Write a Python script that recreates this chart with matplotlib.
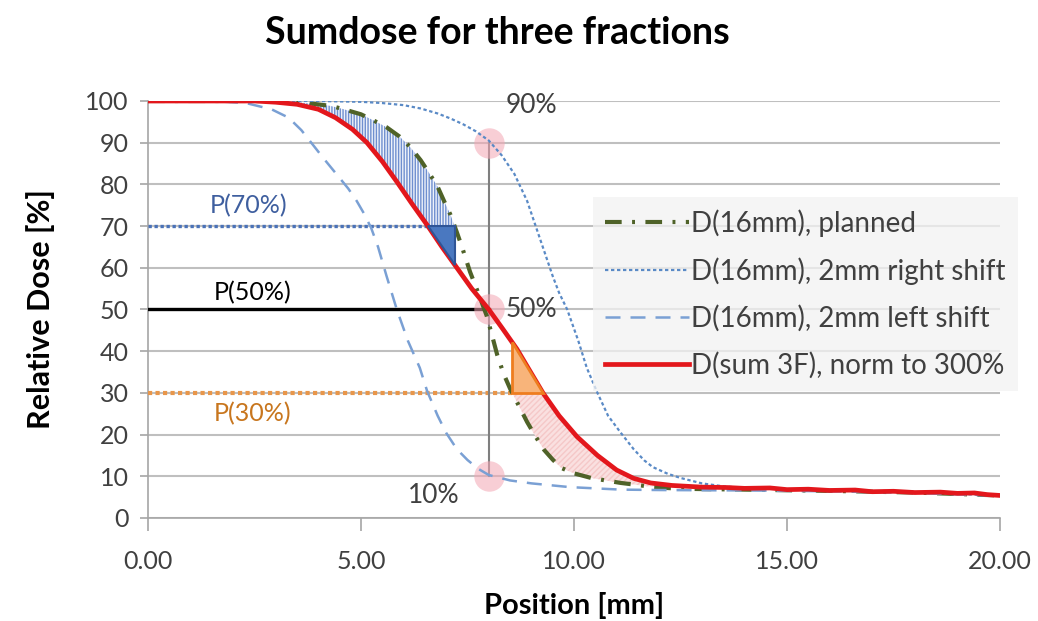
import numpy as np
import matplotlib.pyplot as plt

# dose profiles (position in mm, relative dose in %)
planned_x = [0.0, 3.0, 3.5, 3.9, 4.3, 4.6, 5.0, 5.3, 5.6, 5.9, 6.15, 6.4, 6.6, 6.8,
             6.95, 7.1, 7.25, 7.37, 7.56, 7.75, 7.95, 8.07, 8.2, 8.35, 8.5, 8.7, 8.9,
             9.1, 9.3, 9.5, 9.7, 10.0, 10.4, 10.8, 11.1, 11.5, 11.85, 12.5, 14.0,
             16.0, 18.0, 20.0]
planned_y = [100, 100, 99.7, 99.3, 98.8, 98.0, 96.8, 95.3, 93.7, 91.5, 89.0, 85.8, 82.7, 79.4,
             76.0, 72.7, 68.5, 65.0, 59.0, 54.0, 48.5, 44.0, 39.0, 34.5, 31.0, 27.0, 23.0,
             19.5, 16.3, 14.0, 12.0, 10.7, 9.6, 8.9, 8.4, 7.9, 7.4, 7.0, 6.8,
             6.5, 6.1, 5.4]

right_x = [0.0, 4.0, 5.0, 5.5, 6.0, 6.4, 6.8, 7.1, 7.4, 7.7, 8.0, 8.3, 8.6, 8.9, 9.1,
           9.3, 9.5, 9.65, 9.84, 10.1, 10.3, 10.55, 10.8, 11.1, 11.4, 11.65, 11.85,
           12.2, 12.5, 13.0, 13.5, 14.0, 16.0, 18.0, 20.0]
right_y = [100, 100, 99.8, 99.5, 99.0, 98.2, 97.0, 95.8, 94.4, 92.7, 90.5, 87.0, 82.5, 76.0, 70.0,
           64.0, 58.0, 54.0, 50.0, 42.5, 36.0, 30.0, 24.5, 20.4, 16.5, 13.8, 12.2,
           10.6, 9.6, 8.3, 7.6, 7.2, 6.6, 6.1, 5.4]

left_x = [0.0, 1.5, 2.3, 2.9, 3.3, 3.6, 3.87, 4.1, 4.3, 4.5, 4.7, 4.9, 5.07, 5.24,
          5.4, 5.6, 5.84, 6.1, 6.38, 6.55, 6.8, 7.0, 7.25, 7.5, 7.75, 8.0, 8.5, 9.0,
          9.9, 11.1, 12.0, 14.0, 16.0, 18.0, 20.0]
left_y = [100, 100, 99.5, 98.0, 96.0, 93.0, 89.5, 86.5, 84.0, 81.5, 79.0, 76.0, 73.0, 69.5,
          65.0, 58.0, 50.0, 42.5, 36.0, 30.5, 24.5, 20.4, 16.5, 13.9, 11.8, 10.3, 9.0, 8.3,
          7.4, 6.8, 6.7, 6.6, 6.4, 6.0, 5.3]

sum_x = [0.0, 2.5, 3.0, 3.5, 4.0, 4.4, 4.8, 5.14, 5.5, 5.85, 6.2, 6.57, 6.9, 7.25,
         7.6, 8.0, 8.33, 8.66, 8.95, 9.27, 9.65, 10.07, 10.55, 11.0, 11.4, 11.8, 12.3,
         13.0, 13.6, 14.0, 14.6, 15.0, 15.5, 16.0, 16.6, 17.0, 17.5, 18.0, 18.6, 19.0,
         19.4, 19.7, 20.0]
sum_y = [100, 100, 99.7, 99.2, 98.0, 96.0, 93.2, 90.0, 85.5, 80.5, 75.3, 70.0, 65.0, 60.0,
         55.0, 50.0, 45.3, 40.5, 35.5, 30.0, 24.5, 19.5, 15.0, 11.5, 9.5, 8.4, 7.8,
         7.4, 7.3, 7.1, 7.2, 6.8, 6.9, 6.6, 6.7, 6.3, 6.4, 6.1, 6.2, 5.9,
         6.0, 5.6, 5.4]

labels = ['D(16mm), planned', 'D(16mm), 2mm right shift',
          'D(16mm), 2mm left shift', 'D(sum 3F), norm to 300%']

xticks = [0, 5, 10, 15, 20]
yticks = list(range(0, 101, 10))

p_levels = [70, 50, 30]
p_names = ['P(70%)', 'P(50%)', 'P(30%)']
marks = [90, 50, 10]

plt.rcParams['font.family'] = ['Lato', 'DejaVu Sans']
plt.rcParams['hatch.linewidth'] = 1.0


def x_at(xs, ys, level):
    # curves fall monotonically, so flip them for np.interp
    return float(np.interp(level, ys[::-1], xs[::-1]))


def main():
    fig = plt.figure(figsize=(10.38, 6.21), dpi=100)
    ax = fig.add_axes([0.1426, 0.1659, 0.8208, 0.6715])

    px, py = np.array(planned_x), np.array(planned_y)
    sx, sy = np.array(sum_x), np.array(sum_y)

    # hatched areas between the summed and the planned profile
    yy = np.linspace(p_levels[0], 99.6, 80)
    ax.fill_betweenx(yy, [x_at(sx, sy, v) for v in yy], [x_at(px, py, v) for v in yy],
                     facecolor='#eef2fa', edgecolor='#6f8fcf', hatch='||||||', lw=0, zorder=2)
    yy = np.linspace(7.6, p_levels[2], 60)
    ax.fill_betweenx(yy, [x_at(px, py, v) for v in yy], [x_at(sx, sy, v) for v in yy],
                     facecolor='#fae0e0', edgecolor='#f5c8c8', hatch='//////', lw=0, zorder=2)

    ax.plot(planned_x, planned_y, color='#4f6228', lw=3, dashes=(4, 2.5, 0.7, 2.5),
            label=labels[0], zorder=4)
    ax.plot(right_x, right_y, color='#5a8ac6', lw=1.6, dashes=(1.5, 1.2),
            label=labels[1], zorder=4)
    ax.plot(left_x, left_y, color='#7aa0d4', lw=1.8, dashes=(6, 4),
            label=labels[2], zorder=4)
    ax.plot(sum_x, sum_y, color='#e3171c', lw=3.4, label=labels[3], zorder=5)

    x50 = x_at(sx, sy, 50)
    x70 = x_at(sx, sy, p_levels[0])
    g70 = x_at(px, py, p_levels[0])
    x30 = x_at(sx, sy, p_levels[2])
    g30 = x_at(px, py, p_levels[2])

    # penumbra reference lines
    ax.plot([0, x70], [p_levels[0]] * 2, color='#4a72b8', lw=2.4, dashes=(1, 0.8), zorder=3)
    ax.plot([0, x50], [p_levels[1]] * 2, color='black', lw=2.4, zorder=3)
    ax.plot([0, g30], [p_levels[2]] * 2, color='#e8964a', lw=3, dashes=(1, 0.8), zorder=3)
    ax.plot([x50, x50], [marks[2], marks[0]], color='#7f7f7f', lw=1.5, zorder=3)

    # shift triangles
    tri_blue = [(x70, p_levels[0]), (g70, p_levels[0]), (g70, float(np.interp(g70, sx, sy)))]
    ax.add_patch(plt.Polygon(tri_blue, closed=True, facecolor='#4a78c0',
                             edgecolor='#2f5597', lw=1.5, zorder=6))
    tri_orange = [(g30, float(np.interp(g30, sx, sy))), (g30, p_levels[2]), (x30, p_levels[2])]
    ax.add_patch(plt.Polygon(tri_orange, closed=True, facecolor='#f8b47a',
                             edgecolor='#ee7d1f', lw=2, zorder=6))

    ax.scatter([x50] * 3, marks, s=480, color='#f4a6b4', alpha=0.55, lw=0, zorder=3)

    ax.text(x50 + 0.4, 99, '90%', fontsize=19, color='#404040', va='center')
    ax.text(x50 + 0.4, 50, '50%', fontsize=19, color='#404040', va='center')
    ax.text(6.1, 5.5, '10%', fontsize=19, color='#404040', va='center')

    ax.text(2.35, 75, p_names[0], fontsize=18, color='#3f5f9f', ha='center', va='center')
    ax.text(2.45, 54, p_names[1], fontsize=18, color='black', ha='center', va='center')
    ax.text(2.45, 25, p_names[2], fontsize=18, color='#c8761e', ha='center', va='center')

    ax.set_xlim(0, 20)
    ax.set_ylim(0, 100)
    ax.set_xticks(xticks)
    ax.set_xticklabels(['%.2f' % t for t in xticks])
    ax.set_yticks(yticks)
    ax.tick_params(axis='both', colors='#a6a6a6', labelcolor='#404040', labelsize=18,
                   width=1.2)
    ax.tick_params(axis='x', length=9, pad=14)
    ax.tick_params(axis='y', length=6, pad=8)
    ax.yaxis.grid(True, color='#bfbfbf', lw=1.5)
    ax.set_axisbelow(True)
    for side in ('top', 'right'):
        ax.spines[side].set_visible(False)
    for side in ('left', 'bottom'):
        ax.spines[side].set_color('#a6a6a6')
        ax.spines[side].set_linewidth(1.2)

    ax.set_xlabel('Position [mm]', fontsize=21, fontweight='bold', labelpad=14)
    ax.set_ylabel('Relative Dose [%]', fontsize=22, fontweight='bold', labelpad=22)
    fig.suptitle('Sumdose for three fractions', fontsize=27, fontweight='bold',
                 x=0.479, y=0.975)

    leg = ax.legend(loc='upper left', bbox_to_anchor=(0.522, 0.77), fontsize=20,
                    handlelength=3.0, handletextpad=0.1, labelspacing=0.72,
                    frameon=True, fancybox=False, borderaxespad=0, borderpad=0.45)
    leg.get_frame().set_facecolor('#f2f2f2')
    leg.get_frame().set_edgecolor('none')
    leg.get_frame().set_alpha(0.75)
    for t in leg.get_texts():
        t.set_color('#404040')

    fig.savefig('out.png', dpi=100)


if __name__ == '__main__':
    main()
